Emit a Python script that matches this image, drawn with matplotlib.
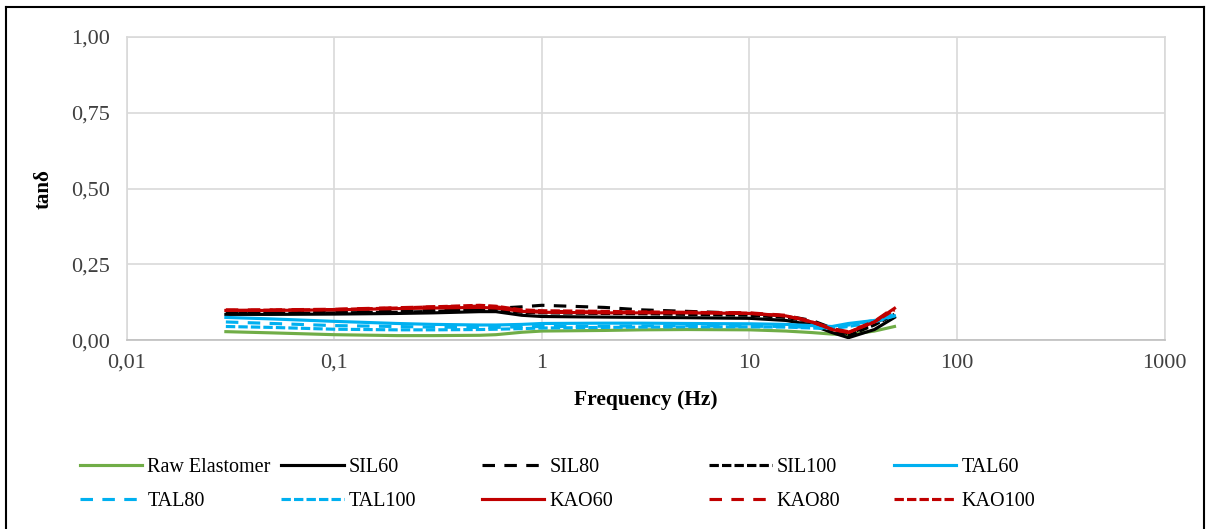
import numpy as np
import matplotlib
matplotlib.use("Agg")
import matplotlib.pyplot as plt
from matplotlib.lines import Line2D
from matplotlib.ticker import FixedLocator, FuncFormatter

plt.rcParams['font.family'] = ['Liberation Serif', 'DejaVu Serif']

# frequency sweep (Hz)
freq = np.array([0.03, 0.05, 0.1, 0.2, 0.3, 0.5, 0.6, 0.8, 1, 2, 3, 5, 10, 15, 20, 25, 30, 40, 50])

# tan delta
raw    = [0.028, 0.024, 0.018, 0.015, 0.015, 0.016, 0.018, 0.026, 0.030, 0.032, 0.034, 0.035, 0.034, 0.030, 0.025, 0.020, 0.018, 0.030, 0.045]
sil60  = [0.085, 0.085, 0.086, 0.088, 0.090, 0.094, 0.094, 0.082, 0.078, 0.076, 0.075, 0.074, 0.072, 0.065, 0.050, 0.025, 0.008, 0.035, 0.075]
sil80  = [0.090, 0.090, 0.092, 0.095, 0.098, 0.102, 0.105, 0.110, 0.115, 0.108, 0.100, 0.095, 0.088, 0.080, 0.065, 0.040, 0.020, 0.055, 0.090]
sil100 = [0.088, 0.088, 0.090, 0.092, 0.095, 0.100, 0.100, 0.092, 0.090, 0.088, 0.087, 0.085, 0.082, 0.075, 0.060, 0.035, 0.015, 0.050, 0.085]
tal60  = [0.075, 0.070, 0.062, 0.055, 0.052, 0.050, 0.050, 0.052, 0.055, 0.056, 0.056, 0.055, 0.054, 0.052, 0.048, 0.045, 0.055, 0.065, 0.080]
tal80  = [0.060, 0.055, 0.048, 0.045, 0.043, 0.042, 0.042, 0.044, 0.045, 0.046, 0.047, 0.047, 0.046, 0.045, 0.042, 0.040, 0.050, 0.065, 0.085]
tal100 = [0.045, 0.042, 0.036, 0.034, 0.034, 0.035, 0.036, 0.038, 0.040, 0.042, 0.043, 0.044, 0.044, 0.043, 0.040, 0.038, 0.045, 0.060, 0.080]
kao60  = [0.098, 0.098, 0.100, 0.104, 0.106, 0.108, 0.106, 0.095, 0.092, 0.090, 0.090, 0.090, 0.088, 0.080, 0.060, 0.035, 0.025, 0.060, 0.105]
kao80  = [0.100, 0.100, 0.102, 0.107, 0.110, 0.112, 0.110, 0.098, 0.095, 0.093, 0.092, 0.092, 0.090, 0.082, 0.062, 0.038, 0.028, 0.062, 0.108]
kao100 = [0.098, 0.099, 0.101, 0.106, 0.110, 0.115, 0.112, 0.100, 0.097, 0.095, 0.093, 0.092, 0.089, 0.080, 0.060, 0.036, 0.026, 0.060, 0.100]

names = ["Raw Elastomer", "SIL60", "SIL80", "SIL100", "TAL60",
         "TAL80", "TAL100", "KAO60", "KAO80", "KAO100"]
series = [raw, sil60, sil80, sil100, tal60, tal80, tal100, kao60, kao80, kao100]

GREEN, BLACK, BLUE, RED = '#70AD47', '#000000', '#00B0F0', '#C00000'
SOLID, DASH, SDASH = '-', (0, (4, 3)), (0, (3, 1))
styles = [(GREEN, SOLID), (BLACK, SOLID), (BLACK, DASH), (BLACK, SDASH), (BLUE, SOLID),
          (BLUE, DASH), (BLUE, SDASH), (RED, SOLID), (RED, DASH), (RED, SDASH)]

fig = plt.figure(figsize=(12.08, 5.29), dpi=100)
ax = fig.add_axes([0.105, 0.357, 0.859, 0.573])

hnd = []
for y, name, (c, ls) in zip(series, names, styles):
    hnd.append(ax.plot(freq, y, color=c, ls=ls, lw=2.25, label=name)[0])

ax.set_xscale('log')
ax.set_xlim(0.01, 1000)
ax.set_ylim(0, 1)
ax.xaxis.set_major_locator(FixedLocator([0.01, 0.1, 1, 10, 100, 1000]))
ax.xaxis.set_minor_locator(FixedLocator([]))
ax.xaxis.set_major_formatter(FuncFormatter(lambda v, p: f"{v:g}".replace('.', ',')))
ax.yaxis.set_major_locator(FixedLocator([0, 0.25, 0.5, 0.75, 1.0]))
ax.yaxis.set_major_formatter(FuncFormatter(lambda v, p: f"{v:.2f}".replace('.', ',')))
ax.tick_params(length=0, labelsize=16, colors='#404040')
ax.tick_params(axis='y', pad=12)
ax.tick_params(axis='x', pad=10)
ax.grid(True, color='#D9D9D9', lw=1.2)
ax.set_axisbelow(True)
for s in ax.spines.values():
    s.set_color('#D9D9D9')
    s.set_linewidth(1.2)
ax.spines['bottom'].set_color('#BFBFBF')

ax.set_xlabel("Frequency (Hz)", fontsize=15.5, fontweight='bold', labelpad=12)
ax.set_ylabel("tanδ", fontsize=15, fontweight='bold', labelpad=13)

# legend: five columns of two entries each, placed like the original
col_x = [0.066, 0.233, 0.399, 0.587, 0.740]
for i, x in enumerate(col_x):
    fig.legend(handles=[hnd[i], hnd[i + 5]], loc='upper left',
               bbox_to_anchor=(x, 0.135), frameon=False, fontsize=14.5,
               handlelength=3.1, handletextpad=0.25, labelspacing=0.75,
               borderaxespad=0, borderpad=0)

# outer frame
fig.add_artist(Line2D([0.005, 0.005], [0, 0.987], color='k', lw=1.5, transform=fig.transFigure))
fig.add_artist(Line2D([0.005, 0.997], [0.987, 0.987], color='k', lw=1.5, transform=fig.transFigure))
fig.add_artist(Line2D([0.997, 0.997], [0, 0.987], color='k', lw=1.5, transform=fig.transFigure))

fig.savefig("out.png", dpi=100)
